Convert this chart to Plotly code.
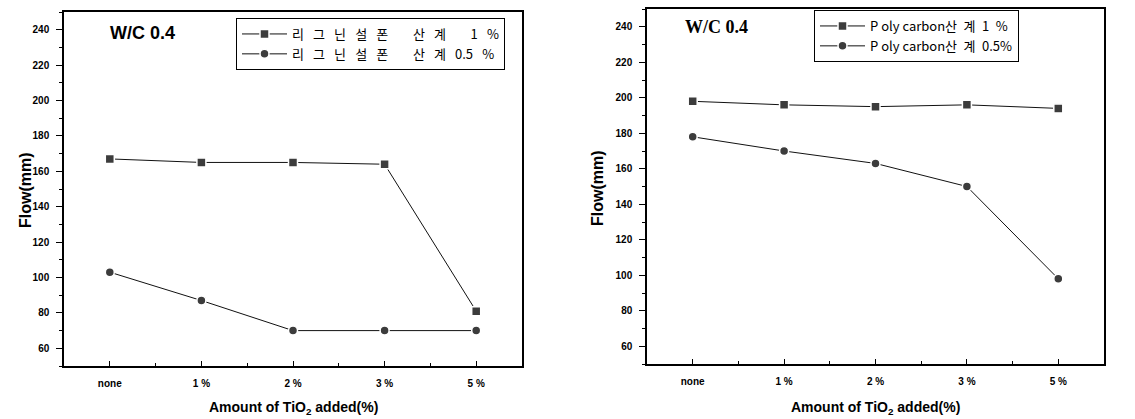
import plotly.graph_objects as go

categories = ["none", "1%", "2%", "3%", "5%"]
tick_text = ["none", "1 %", "2 %", "3 %", "5 %"]

lig_1 = [167, 165, 165, 164, 81]
lig_05 = [103, 87, 70, 70, 70]
poly_1 = [198, 196, 195, 196, 194]
poly_05 = [178, 170, 163, 150, 98]

E = "\u2002\u2009"
lig_names = [E.join("리그닌설폰") + E * 2 + "\u2002" + "산" + E + "계" + E * 2 + "\u2002" + "1" + E + "%",
             E.join("리그닌설폰") + E * 2 + "\u2002" + "산" + E + "계" + E + "0.5" + E + "%"]
S = "\u2002"
poly_names = ["P oly carbon산" + S + "계" + S + "1" + S + "%",
              "P oly carbon산" + S + "계" + S + "0.5%"]

W, H = 1135, 419
xs = list(range(len(categories)))

fig = go.Figure()

def add(x, y, name, sym, xa, ya, leg):
    fig.add_trace(go.Scatter(
        x=x, y=y, name=name, mode="lines+markers",
        xaxis=xa, yaxis=ya, legend=leg,
        line=dict(color="#111111", width=1),
        marker=dict(symbol=sym, size=9,
                    color="#3c3c3c", line=dict(color="white", width=1.5)),
    ))

add(xs, lig_1, lig_names[0], "square", "x", "y", "legend")
add(xs, lig_05, lig_names[1], "circle", "x", "y", "legend")
add(xs, poly_1, poly_names[0], "square", "x2", "y2", "legend2")
add(xs, poly_05, poly_names[1], "circle", "x2", "y2", "legend2")

tickfont = dict(family="Liberation Sans, Arial", size=10, color="black", weight="bold")
minor_x = dict(tickvals=[i + 0.5 for i in xs], ticklen=3, tickcolor="black", ticks="inside")
minor_y = dict(dtick=10, ticklen=3, tickcolor="black", ticks="outside")

def xaxis(domain, anchor):
    return dict(domain=domain, range=[-0.5, len(xs) - 0.5], anchor=anchor,
                tickvals=xs, ticktext=tick_text,
                ticks="inside", ticklen=5, tickcolor="black", showline=True,
                linecolor="black", linewidth=1.5, mirror=True, showgrid=False,
                zeroline=False, tickfont=tickfont, minor=minor_x,
                ticklabelstandoff=7)

def yaxis(domain, anchor):
    return dict(domain=domain, range=[50, 250], anchor=anchor, dtick=20, tick0=0,
                ticks="outside", ticklen=6, tickcolor="black", showline=True,
                linecolor="black", linewidth=1.5, mirror=True, showgrid=False,
                zeroline=False, tickfont=tickfont, minor=minor_y,
                ticklabelstandoff=5)

x1d = [64 / W, 522 / W]
x2d = [647 / W, 1104 / W]
y1d = [(H - 366) / H, (H - 12) / H]
y2d = [(H - 364) / H, (H - 9) / H]

legfont = dict(family="Noto Sans CJK KR, Noto Sans", size=13, color="black")

fig.update_layout(
    width=W, height=H,
    margin=dict(l=0, r=0, t=0, b=0),
    paper_bgcolor="white", plot_bgcolor="white",
    xaxis=xaxis(x1d, "y"),
    yaxis=yaxis(y1d, "x"),
    xaxis2=xaxis(x2d, "y2"),
    yaxis2=yaxis(y2d, "x2"),
    legend=dict(x=236 / W, y=(H - 18) / H, xanchor="left", yanchor="top",
                bordercolor="black", borderwidth=1, bgcolor="white",
                font=legfont, tracegroupgap=0, itemwidth=45),
    legend2=dict(x=814 / W, y=(H - 10) / H, xanchor="left", yanchor="top",
                 bordercolor="black", borderwidth=1, bgcolor="white",
                 font=legfont, tracegroupgap=0, itemwidth=45),
    showlegend=True,
)

ann = []
ann.append(dict(text="<b>W/C 0.4</b>", x=108 / W, y=(H - 33) / H, xref="paper", yref="paper",
                xanchor="left", yanchor="middle", showarrow=False,
                font=dict(family="Liberation Sans, Arial", size=18, color="black")))
ann.append(dict(text="<b>W/C 0.4</b>", x=683 / W, y=(H - 27) / H, xref="paper", yref="paper",
                xanchor="left", yanchor="middle", showarrow=False,
                font=dict(family="Liberation Serif, Times New Roman", size=18, color="black")))
for xc, yc in [(25, 190), (597, 188)]:
    ann.append(dict(text="<b>Flow(mm)</b>", x=xc / W, y=(H - yc) / H, xref="paper", yref="paper",
                    xanchor="center", yanchor="middle", showarrow=False, textangle=-90,
                    font=dict(family="Liberation Sans, Arial", size=16, color="black")))
for xc in [293, 875]:
    ann.append(dict(text="<b>Amount of TiO<sub>2</sub> added(%)</b>", x=xc / W, y=(H - 408) / H,
                    xref="paper", yref="paper", xanchor="center", yanchor="middle",
                    showarrow=False,
                    font=dict(family="Liberation Sans, Arial", size=14, color="black")))
fig.update_layout(annotations=ann)

fig.write_html("out.html")
